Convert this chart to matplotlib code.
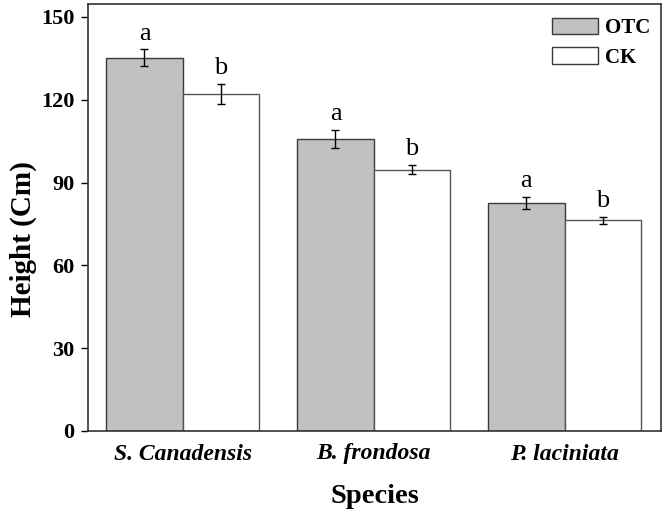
import numpy as np
import matplotlib.pyplot as plt
from matplotlib.patches import Patch

plt.rcParams['font.family'] = ['Liberation Serif', 'DejaVu Serif']

# data
species = ["S. Canadensis", "B. frondosa", "P. laciniata"]
otc = [135.3, 105.8, 82.6]
otc_err = [3.0, 3.4, 2.1]
ck = [122.0, 94.7, 76.3]
ck_err = [3.7, 1.6, 1.4]
otc_sig = ["a", "a", "a"]
ck_sig = ["b", "b", "b"]

GRAY = "#c1c1c1"
EDGE = "#3a3a3a"
W = 0.40

fig = plt.figure(figsize=(6.66, 5.13), dpi=100)
ax = fig.add_axes([88.3 / 666, 82 / 513, 572.4 / 666, 427 / 513])

x = np.arange(len(species))
ax.bar(x - W / 2, otc, W, color=GRAY, edgecolor=EDGE, lw=1.0, zorder=2)
ax.bar(x + W / 2, ck, W, color="white", edgecolor="#555555", lw=1.0, zorder=2)
ax.errorbar(x - W / 2, otc, yerr=otc_err, fmt="none", ecolor="black",
            elinewidth=1.0, capsize=3, capthick=1.0, zorder=3)
ax.errorbar(x + W / 2, ck, yerr=ck_err, fmt="none", ecolor="black",
            elinewidth=1.0, capsize=3, capthick=1.0, zorder=3)

for xi, v, e, s in zip(x - W / 2, otc, otc_err, otc_sig):
    ax.annotate(s, (xi, v + e), xytext=(0, 7), textcoords="offset points",
                ha="center", va="baseline", fontsize=19)
for xi, v, e, s in zip(x + W / 2, ck, ck_err, ck_sig):
    ax.annotate(s, (xi, v + e), xytext=(0, 7), textcoords="offset points",
                ha="center", va="baseline", fontsize=19)

ax.set_xlim(-0.494, 2.503)
ax.set_ylim(0, 154.7)
ax.set_yticks([0, 30, 60, 90, 120, 150])
ax.set_xticks(x)
ax.set_xticklabels(species, fontsize=17, fontweight="bold", fontstyle="italic")
ax.tick_params(axis="x", length=0, pad=9)
ax.tick_params(axis="y", direction="out", length=5, width=1.0, labelsize=16, pad=5)
for lab in ax.get_yticklabels():
    lab.set_fontweight("bold")
for sp in ax.spines.values():
    sp.set_linewidth(1.2)
    sp.set_color("#333333")

ax.set_ylabel("Height (Cm)", fontsize=21, fontweight="bold")
ax.yaxis.set_label_coords(-0.09, 0.45)
ax.set_xlabel("Species", fontsize=20.5, fontweight="bold", labelpad=14)

handles = [Patch(facecolor=GRAY, edgecolor=EDGE, label="OTC"),
           Patch(facecolor="white", edgecolor=EDGE, label="CK")]
ax.legend(handles=handles, loc="upper right", frameon=False,
          prop={"weight": "bold", "size": 15}, handlelength=2.2,
          handleheight=0.85, handletextpad=0.35, labelspacing=0.42,
          bbox_to_anchor=(1.0, 0.992), borderaxespad=0.1, borderpad=0.4)

fig.savefig("out.png", dpi=100)
